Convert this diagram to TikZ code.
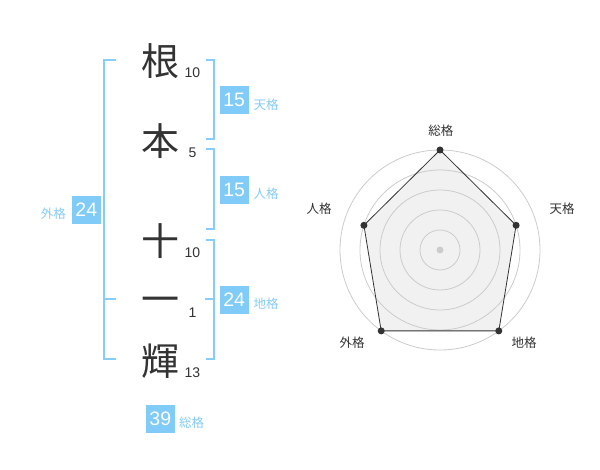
\documentclass[tikz,border=0pt]{standalone}
\usepackage{fontspec}
\setmainfont{Liberation Sans}
\newfontfamily\jp{Noto Sans CJK JP}
\definecolor{brk}{HTML}{86CDF9}
\definecolor{boxc}{HTML}{80CBF7}
\definecolor{lblc}{HTML}{86CCF5}
\definecolor{ink}{HTML}{333333}
\definecolor{ring}{HTML}{CCCCCC}
\definecolor{area}{HTML}{F1F1F1}
\tikzset{
  kanji/.style={inner sep=0pt, text height=33.4pt, text depth=4.6pt, text=ink, font=\jp\fontsize{38}{38}\selectfont},
  strokes/.style={inner sep=0pt, text=ink, font=\fontsize{14}{14}\selectfont},
  brkline/.style={draw=brk, line width=2pt},
  valbox/.style={fill=boxc, text=white, minimum width=29pt, minimum height=28.5pt, inner sep=0pt, font=\fontsize{19.5}{19.5}\selectfont},
  kaku/.style={inner sep=0pt, text=lblc, font=\jp\fontsize{12.5}{12.5}\selectfont},
  axislbl/.style={inner sep=0pt, text=ink, font=\jp\fontsize{12.5}{12.5}\selectfont},
  ringline/.style={draw=ring, line width=0.8pt},
  vdot/.style={circle, fill=ink, inner sep=0pt, minimum size=7pt},
}
\begin{document}
\begin{tikzpicture}[x=1pt,y=-1pt]
\useasboundingbox (0,0) rectangle (600,470);
\fill[white] (0,0) rectangle (600,470);

% name characters
\node[kanji] (c1) at (160,61) {根};
\node[kanji] (c2) at (160,141) {本};
\node[kanji] (c3) at (160,241) {十};
\node[kanji] (c4) at (160,299) {一};
\node[kanji] (c5) at (160,361) {輝};

\node[strokes] (s1) at (192.5,73) {10};
\node[strokes] (s2) at (192.5,153) {5};
\node[strokes] (s3) at (192.5,253) {10};
\node[strokes] (s4) at (192.5,313) {1};
\node[strokes] (s5) at (192.5,373) {13};

% brackets
\draw[brkline] (205.7,60) -- (214.3,60) -- (214.3,139.3) -- (205.7,139.3);
\draw[brkline] (205.7,149.3) -- (214.3,149.3) -- (214.3,229.3) -- (205.7,229.3);
\draw[brkline] (205.7,240) -- (214.3,240) -- (214.3,359.3) -- (205.7,359.3);
\draw[brkline] (205,299.3) -- (214.3,299.3);
\draw[brkline] (116,60) -- (104,60) -- (104,359.3) -- (116,359.3);
\draw[brkline] (104,299.3) -- (116,299.3);

% value boxes and labels
\node[valbox] (b1) at (234.2,100.2) {15};
\node[kaku] (l1) at (266,104.5) {天格};
\node[valbox] (b2) at (234.2,190) {15};
\node[kaku] (l2) at (266,194) {人格};
\node[valbox] (b3) at (234.2,300) {24};
\node[kaku] (l3) at (266,304) {地格};
\node[valbox] (b4) at (86.3,210) {24};
\node[kaku] (l4) at (53.3,214) {外格};
\node[valbox] (b5) at (160.3,419) {39};
\node[kaku] (l5) at (191.5,423) {総格};

% radar chart
\coordinate (ctr) at (440,250);
\coordinate (pT) at (440,150);
\coordinate (pH) at (516.1,225.3);
\coordinate (pC) at (498.8,330.9);
\coordinate (pG) at (381.2,330.9);
\coordinate (pJ) at (363.9,225.3);
\fill[area] (pT) -- (pH) -- (pC) -- (pG) -- (pJ) -- cycle;
\foreach \r in {20,40,60,80,100} \draw[ringline] (ctr) circle[radius=\r];
\draw[ink, line width=0.8pt, line join=round] (pT) -- (pH) -- (pC) -- (pG) -- (pJ) -- cycle;
\fill[ring] (ctr) circle[radius=3.5];
\node[vdot] (dT) at (pT) {};
\node[vdot] (dH) at (pH) {};
\node[vdot] (dC) at (pC) {};
\node[vdot] (dG) at (pG) {};
\node[vdot] (dJ) at (pJ) {};

\node[axislbl] (aT) at (440.8,130.7) {総格};
\node[axislbl] (aH) at (562,208.7) {天格};
\node[axislbl] (aJ) at (319.2,208.7) {人格};
\node[axislbl] (aG) at (352,342.3) {外格};
\node[axislbl] (aC) at (524,342.3) {地格};
\end{tikzpicture}
\end{document}
